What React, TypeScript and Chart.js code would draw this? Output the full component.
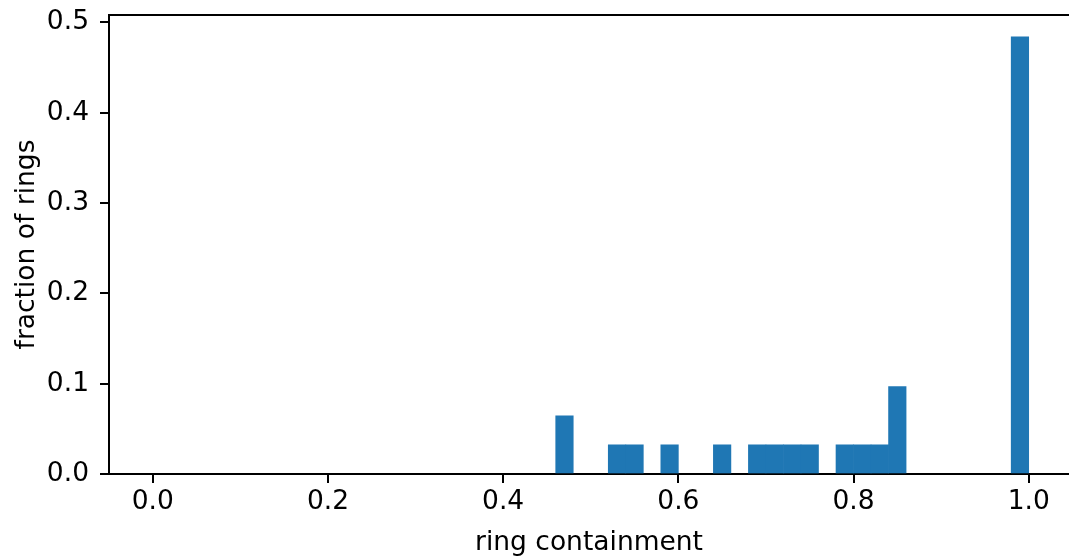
import React, { useEffect, useRef } from "react";
import { Chart, registerables } from "chart.js";

Chart.register(...registerables);

// Histogram bins (left edges) that hold data, bin width 0.02
const binLeftEdges = [0.46, 0.52, 0.54, 0.58, 0.64, 0.68, 0.70, 0.72, 0.74, 0.78, 0.80, 0.82, 0.84, 0.98];
const binFractions = [0.0645, 0.0323, 0.0323, 0.0323, 0.0323, 0.0323, 0.0323, 0.0323, 0.0323, 0.0323, 0.0323, 0.0323, 0.0968, 0.4839];
const binWidth = 0.02;

const xTicks = [0.0, 0.2, 0.4, 0.6, 0.8, 1.0];
const yTicks = [0.0, 0.1, 0.2, 0.3, 0.4, 0.5];

const xLabel = "ring containment";
const yLabel = "fraction of rings";

const FONT = "'DejaVu Sans', sans-serif";
const FS = 26.5;

const topSpine = {
  id: "topSpine",
  afterDraw(chart: any) {
    const { ctx, chartArea } = chart;
    ctx.save();
    ctx.strokeStyle = "#000";
    ctx.lineWidth = 2;
    ctx.beginPath();
    ctx.moveTo(chartArea.left - 1, chartArea.top);
    ctx.lineTo(chartArea.right, chartArea.top);
    ctx.stroke();
    ctx.restore();
  },
};

export default function App() {
  const ref = useRef<HTMLCanvasElement>(null);

  useEffect(() => {
    if (!ref.current) return;
    const data = binLeftEdges.map((e, i) => ({ x: e + binWidth / 2, y: binFractions[i] }));
    const chart = new Chart(ref.current, {
      type: "bar",
      data: {
        datasets: [
          {
            data,
            backgroundColor: "#1f77b4",
            borderWidth: 0,
            barPercentage: 1,
            categoryPercentage: 1,
          },
        ],
      },
      plugins: [topSpine],
      options: {
        animation: false,
        responsive: false,
        devicePixelRatio: 1,
        layout: { padding: { top: 15, right: 0, left: 0, bottom: 0 } },
        plugins: { legend: { display: false }, tooltip: { enabled: false } },
        scales: {
          x: {
            type: "linear",
            min: -0.05,
            max: 1.046,
            offset: false,
            afterBuildTicks: (s: any) => {
              s.ticks = xTicks.map((v) => ({ value: v }));
            },
            afterFit: (s: any) => {
              s.height = 83;
              s.paddingLeft = 0;
              s.paddingRight = 0;
            },
            grid: { offset: false, drawOnChartArea: false, drawTicks: true, tickLength: 9, color: "#000", lineWidth: 2 },
            border: { display: true, color: "#000", width: 2 },
            ticks: {
              padding: 3,
              color: "#000",
              font: { family: FONT, size: FS },
              maxRotation: 0,
              autoSkip: false,
              callback: (v: any) => Number(v).toFixed(1),
            },
            title: {
              display: true,
              text: xLabel,
              color: "#000",
              font: { family: FONT, size: FS },
              padding: { top: 0, bottom: -2 },
            },
          },
          y: {
            type: "linear",
            min: 0,
            max: 0.5081,
            afterBuildTicks: (s: any) => {
              s.ticks = yTicks.map((v) => ({ value: v }));
            },
            afterFit: (s: any) => {
              s.width = 109;
              s.paddingTop = 0;
              s.paddingBottom = 0;
            },
            grid: { drawOnChartArea: false, drawTicks: true, tickLength: 9, color: "#000", lineWidth: 2 },
            border: { display: true, color: "#000", width: 2 },
            ticks: {
              padding: 11,
              color: "#000",
              font: { family: FONT, size: FS },
              callback: (v: any) => Number(v).toFixed(1),
            },
            title: {
              display: true,
              text: yLabel,
              color: "#000",
              font: { family: FONT, size: FS },
              padding: { top: 11, bottom: 0 },
            },
          },
        },
      },
    });
    return () => chart.destroy();
  }, []);

  return (
    <div style={{ position: "absolute", left: 0, top: 0, width: 1069, height: 557, background: "#fff" }}>
      <canvas ref={ref} width={1069} height={557} style={{ display: "block" }} />
    </div>
  );
}
